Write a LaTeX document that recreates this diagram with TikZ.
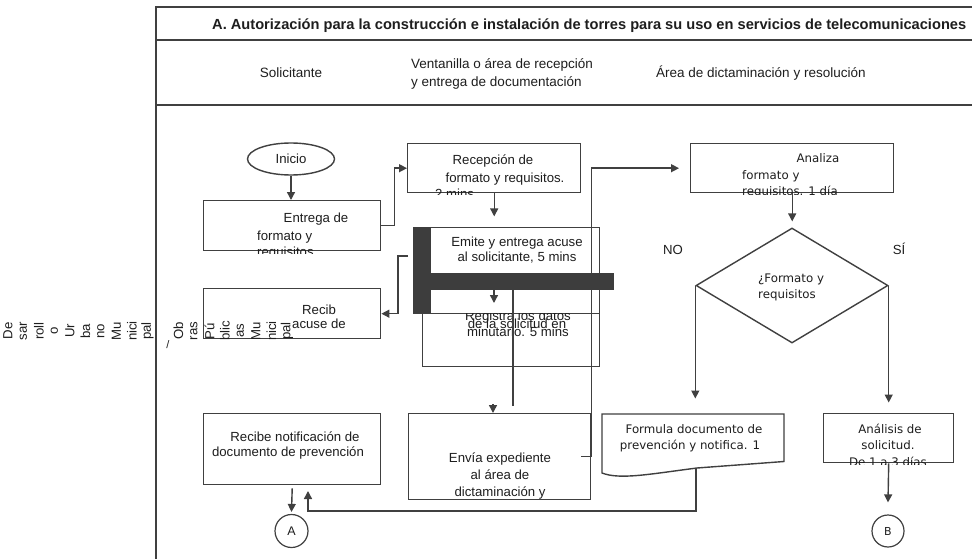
\documentclass[tikz,border=0pt]{standalone}
\usepackage{fontspec}
\setmainfont{Liberation Sans}
\newfontfamily\dvfont{DejaVu Sans}
\usetikzlibrary{shapes.geometric,arrows.meta}
\definecolor{lncol}{HTML}{404040}
\definecolor{barcol}{HTML}{3D3D3D}
\definecolor{txtcol}{HTML}{1E1E1E}
\tikzset{
  ln/.style={draw=lncol,line width=1.4pt},
  arr/.style={draw=lncol,line width=1.4pt,-{Triangle[length=8pt,width=8pt]}},
  box/.style={draw=lncol,line width=1.4pt,fill=white,rectangle,inner sep=0pt,anchor=north west},
  tx/.style={text=txtcol,inner sep=0pt,anchor=base,font=\fontsize{13.2}{15}\selectfont},
  txw/.style={tx,anchor=base west},
  dv/.style={text=txtcol,inner sep=0pt,anchor=base,font=\dvfont\fontsize{11.8}{14}\selectfont},
  dvw/.style={dv,anchor=base west},
  rot/.style={text=txtcol,inner sep=0pt,rotate=90,font=\fontsize{13.2}{15}\selectfont},
  hd/.style={text=txtcol,inner sep=0pt,font=\fontsize{13.5}{16}\selectfont},
}
\begin{document}
\begin{tikzpicture}[x=1pt,y=-1pt]
\useasboundingbox (0,0) rectangle (972,559);
\fill[white] (0,0) rectangle (972,559);

% frame
\draw[ln] (156,559) -- (156,7) -- (972,7);
\draw[ln] (156,40) -- (972,40);
\draw[ln] (156,105) -- (972,105);

% header
\node[anchor=base west,inner sep=0pt,text=txtcol] (title) at (212,29.5)
  {\resizebox{754pt}{!}{\fontsize{14.5}{17}\selectfont\bfseries A. Autorización para la construcción e instalación de torres para su uso en servicios de telecomunicaciones}};
\node[hd,anchor=base] (solic) at (291,78) {Solicitante};
\node[hd,anchor=base west] (vent1) at (411,69) {Ventanilla o área de recepción};
\node[hd,anchor=base west] (vent2) at (411,86.5) {y entrega de documentación};
\node[hd,anchor=base west] (area) at (656,78) {Área de dictaminación y resolución};

% boxes
\node[draw=lncol,line width=1.4pt,fill=white,ellipse,minimum width=87,minimum height=32,inner sep=0pt,text=txtcol,font=\fontsize{13.2}{15}\selectfont] (inicio) at (291,159) {Inicio};
\node[box,minimum width=177,minimum height=50] (entrega) at (203,200) {};
\node[box,minimum width=173,minimum height=49] (recep) at (407,143) {};
\node[box,minimum width=186,minimum height=86] (emite) at (413,227) {};
\node[box,minimum width=177,minimum height=53] (registra) at (422,313) {};
\node[box,minimum width=177,minimum height=50] (recib) at (203,288) {};
\node[box,minimum width=182,minimum height=86] (envia) at (408,413) {};
\node[box,minimum width=177,minimum height=71] (recnot) at (203,413) {};
\node[box,minimum width=203,minimum height=49] (analiza) at (690,143) {};
\node[box,minimum width=130,minimum height=49] (analisis) at (823,413) {};
\node[draw=lncol,line width=1.4pt,fill=white,diamond,minimum width=192,minimum height=115,inner sep=0pt] (dia) at (792,285.5) {};
\draw[ln,fill=white] (602,414) -- (784,414) -- (784,461.5) -- (697,468) .. controls (650,474) and (620,480) .. (602,473) -- cycle;
\coordinate (fbot) at (696,468);
\node[draw=lncol,line width=1.2pt,circle,minimum size=33,inner sep=0pt,text=txtcol,font=\fontsize{12.5}{15}\selectfont] (circA) at (291.5,531) {A};
\node[draw=lncol,line width=1.2pt,circle,minimum size=32,inner sep=0pt,text=txtcol,font=\dvfont\fontsize{11}{14}\selectfont] (circB) at (888,531) {B};

% texts
\begin{scope}
\clip (entrega.north west) rectangle ([yshift=-2pt]entrega.south east);
\node[tx] (t1) at (316,222.5) {Entrega de};
\node[txw] (t2) at (257,240.5) {formato y};
\node[txw] (t3) at (257,256) {requisitos};
\end{scope}
\begin{scope}
\clip (recep.north west) rectangle ([yshift=-1pt]recep.south east);
\node[tx] (t4) at (493,164.5) {Recepción de};
\node[tx] (t5) at (505,182.5) {formato y requisitos.};
\node[txw] (t6) at (435,198) {2 mins};
\end{scope}
\node[tx] (t7) at (517,246.5) {Emite y entrega acuse};
\node[tx] (t8) at (517,261.5) {al solicitante, 5 mins};
\begin{scope}
\clip (registra.north west) rectangle (registra.south east);
\node[tx] (t9) at (518,320.5) {Registra los datos};
\node[tx] (t10) at (517,328.5) {de la solicitud en};
\node[tx] (t11) at (518,336.5) {minutario. 5 mins};
\end{scope}
\begin{scope}
\clip (recib.north west) rectangle (recib.south east);
\node[txw] (t12) at (302,314.5) {Recib};
\node[txw] (t13) at (292,328.5) {acuse de};
\end{scope}
\begin{scope}
\clip (envia.north west) rectangle ([yshift=-1pt]envia.south east);
\node[tx] (t14) at (500,462.5) {Envía expediente};
\node[tx] (t15) at (500,479.5) {al área de};
\node[tx] (t16) at (500,496.5) {dictaminación y};
\end{scope}
\node[tx] (t17) at (295,441.5) {Recibe notificación de};
\node[tx] (t18) at (288,456.5) {documento de prevención};
\begin{scope}
\clip (analiza.north west) rectangle ([yshift=-1pt]analiza.south east);
\node[dv] (t19) at (818,163) {Analiza};
\node[dvw] (t20) at (742,179) {formato y};
\node[dvw] (t21) at (742,195) {requisitos. 1 día};
\end{scope}
\node[dvw] (t22) at (758,282.5) {¿Formato y};
\node[dvw] (t23) at (758,298) {requisitos};
\node[tx] (no) at (673,254.5) {NO};
\node[tx] (si) at (899,254.5) {SÍ};
\node[dv] (t24) at (694,433) {Formula documento de};
\node[dv] (t25) at (690,449.5) {prevención y notifica. 1};
\begin{scope}
\clip (analisis.north west) rectangle ([yshift=-1pt]analisis.south east);
\node[dv] (t26) at (890,433) {Análisis de};
\node[dv] (t27) at (888,449) {solicitud.};
\node[dv] (t28) at (888,466) {De 1 a 3 días};
\end{scope}

% rotated lane label
\foreach \s [count=\i from 0] in {De,sar,roll,o,Ur,ba,no,Mu,nici,pal}
  \node[rot] (r\i) at ({8+15.5*\i},331) {\s};
\node[text=txtcol,inner sep=0pt,font=\fontsize{11}{13}\selectfont] (rslash) at (168,345) {/};
\foreach \s [count=\i from 11] in {Ob,ras,Pú,blic,as,Mu,nici,pal}
  \node[rot] (r\i) at ({8+15.5*\i},331) {\s};

% connectors
\draw[arr] (inicio.south) -- (inicio.south |- entrega.north);
\draw[arr] (entrega.east) -- ++(13,0) |- (recep.west);
\draw[arr] (recep.south) -- ++(0,23);
\coordinate (k1) at (408,256);
\draw[arr] (k1) -- (398,256) |- (recib.east);
\coordinate (k3) at (513,290);
\coordinate (k4) at (513,406);
\draw[ln] (k3) -- (k4);
\coordinate (k5) at (493,404);
\draw[arr] (k5) -- (k5 |- envia.north);
\draw[arr] ([xshift=-10pt]envia.east) -- (envia.east) |- ([xshift=-11pt]analiza.west);
\draw[arr] (analiza.south) -- ++(0,28);
\draw[arr] (dia.west) -- ++(0,113);
\draw[arr] (dia.east) -- ++(0,117);
\coordinate (k6) at (308,491);
\draw[arr] (fbot) -- (696,511) -| (k6);
\draw[arr] ([yshift=-3pt]recnot.south) -- ([yshift=2pt]circA.north);
\draw[arr] (analisis.south) -- ([yshift=12pt]circB.north);

% dark overlay bars
\fill[barcol] (413,227) rectangle (431,313);
\coordinate (k2) at (494,289);
\coordinate (k2b) at (494,303);
\draw[arr] (k2) -- (k2b);
\fill[barcol] (413,273) rectangle (614,290);
\end{tikzpicture}
\end{document}
